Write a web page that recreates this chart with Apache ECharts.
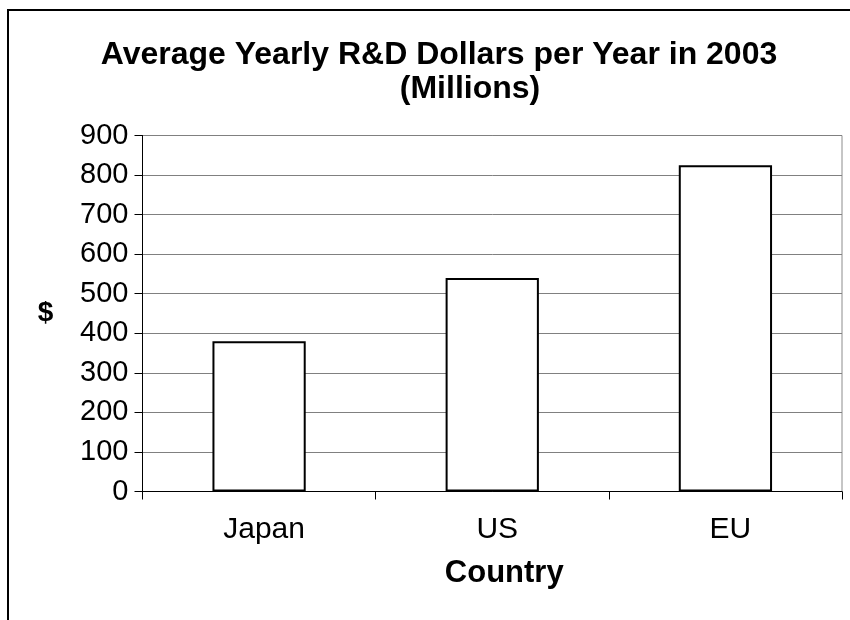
<!DOCTYPE html>
<html>
<head>
<meta charset="utf-8">
<script src="https://cdn.jsdelivr.net/npm/echarts@6/dist/echarts.min.js"></script>
<style>html,body{margin:0;padding:0;background:#fff;}#c{width:850px;height:620px;}</style>
</head>
<body>
<div id="c"></div>
<script>
const titleLine1 = 'Average Yearly R&D Dollars per Year in 2003';
const titleLine2 = '(Millions)';
const categories = ['Japan', 'US', 'EU'];
const values = [380, 540, 825];
const yTicks = [0, 100, 200, 300, 400, 500, 600, 700, 800, 900];
const xName = 'Country';
const yName = '$';

const FF = '"Liberation Sans", Arial, sans-serif';
const chart = echarts.init(document.getElementById('c'), null, {renderer: 'canvas'});
chart.setOption({
  animation: false,
  backgroundColor: '#fff',
  title: [
    {text: titleLine1, left: 434, top: 50, textAlign: 'center', textVerticalAlign: 'middle',
     textStyle: {fontFamily: FF, fontSize: 32, fontWeight: 'bold', color: '#000'}},
    {text: titleLine2, left: 465, top: 84, textAlign: 'center', textVerticalAlign: 'middle',
     textStyle: {fontFamily: FF, fontSize: 32, fontWeight: 'bold', color: '#000'}}
  ],
  graphic: [{
    type: 'rect', z: 100, silent: true,
    shape: {x: 8, y: 10, width: 900, height: 700},
    style: {fill: 'none', stroke: '#000', lineWidth: 2}
  }],
  grid: {left: 142.5, top: 135.5, right: 8, bottom: 128.5, show: true,
         borderColor: '#8c8c8c', borderWidth: 1, containLabel: false},
  xAxis: {
    type: 'category', data: categories,
    name: xName, nameLocation: 'middle', nameGap: 66,
    nameTextStyle: {fontFamily: FF, fontSize: 31, fontWeight: 'bold', color: '#000', padding: [0, 0, 0, 24]},
    axisLine: {lineStyle: {color: '#000', width: 1}},
    axisTick: {show: true, length: 8, lineStyle: {color: '#000'}},
    axisLabel: {fontFamily: FF, fontSize: 30, color: '#000', margin: 23, padding: [0, 0, 0, 10]}
  },
  yAxis: {
    type: 'value', min: 0, max: 900, interval: 100,
    name: yName, nameLocation: 'middle', nameGap: 97, nameRotate: 0,
    nameTextStyle: {fontFamily: FF, fontSize: 28, fontWeight: 'bold', color: '#000', align: 'center', verticalAlign: 'middle', padding: [15, 0, 0, 0]},
    axisLine: {show: true, lineStyle: {color: '#000', width: 1}},
    axisTick: {show: true, length: 8, lineStyle: {color: '#000'}},
    axisLabel: {fontFamily: FF, fontSize: 29, color: '#000', margin: 14,
      formatter: v => yTicks.includes(v) ? String(v) : ''},
    splitLine: {show: true, lineStyle: {color: '#808080', width: 1}}
  },
  series: [{
    type: 'bar', data: values, barWidth: '40%',
    itemStyle: {color: '#fff', borderColor: '#000', borderWidth: 2}
  }]
});
</script>
</body>
</html>
